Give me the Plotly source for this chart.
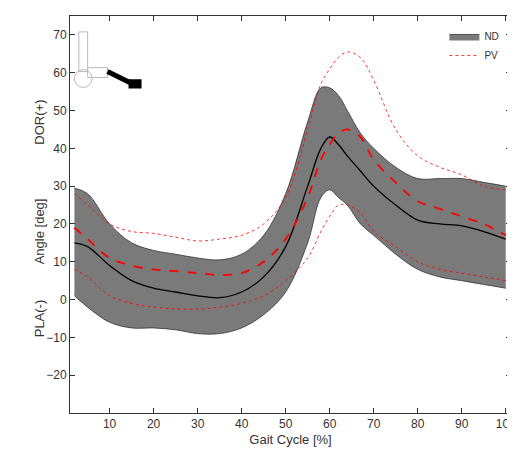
import plotly.graph_objects as go

gait = [2, 5, 10, 15, 20, 25, 30, 35, 40, 45, 50, 55, 58, 60, 62, 64, 67, 70, 75, 80, 85, 90, 95, 100]
nd_mean = [15, 14, 9, 5, 3, 2, 1, 0.5, 2, 6, 14, 30, 40, 43, 41, 38, 34, 30, 25, 21, 20, 19.5, 18, 16]
nd_upper = [29.5, 28, 20, 15, 13, 12, 11, 10.5, 12, 17, 28, 47, 56, 56, 54, 50, 44, 40, 35, 32, 32, 32, 31, 30]
nd_lower = [1, -2, -6, -7.5, -7.5, -8, -9, -9, -7.5, -4, 2, 15, 27, 29, 27, 25, 20, 17, 12, 8, 6, 5, 4, 3]
pv_mean = [19, 16, 11, 9, 8, 7.5, 7, 6.5, 7, 10, 16, 27, 37, 41, 44, 45, 43, 37, 31, 26, 24, 22, 20, 17]
pv_upper = [28, 25, 20, 18, 17.5, 16.5, 15.5, 16, 17, 20, 27, 45, 57, 61, 64, 65.5, 64, 58, 45, 38, 35, 33, 30, 29]
pv_lower = [8, 6, 1, -1, -2, -2.5, -2.5, -2, -1, 1, 5, 11, 18, 22, 25, 25, 23, 18, 14, 10, 8, 7, 6, 5]

fig = go.Figure()
fig.add_trace(go.Scatter(x=gait, y=nd_upper, mode='lines', line=dict(color='#333', width=0.8, shape='spline'),
                         showlegend=False, hoverinfo='skip'))
fig.add_trace(go.Scatter(x=gait, y=nd_lower, mode='lines', fill='tonexty', fillcolor='#7a7a7a',
                         line=dict(color='#333', width=0.8, shape='spline'), name='ND', legendrank=1))
fig.add_trace(go.Scatter(x=gait, y=nd_mean, mode='lines', line=dict(color='black', width=1.3, shape='spline'),
                         showlegend=False))
fig.add_trace(go.Scatter(x=gait, y=pv_upper, mode='lines', line=dict(color='red', width=0.8, dash='dot', shape='spline'),
                         name='PV', legendrank=2))
fig.add_trace(go.Scatter(x=gait, y=pv_lower, mode='lines', line=dict(color='red', width=0.8, dash='dot', shape='spline'),
                         showlegend=False))
fig.add_trace(go.Scatter(x=gait, y=pv_mean, mode='lines', line=dict(color='red', width=1.8, dash='dash', shape='spline'),
                         showlegend=False))

axis = dict(showline=True, mirror='ticks', linecolor='#333', ticks='inside', ticklen=5, tickcolor='#333',
            showgrid=False, zeroline=False, tickfont=dict(size=12, color='#333'))
fig.update_layout(
    width=515, height=460, paper_bgcolor='white', plot_bgcolor='white',
    margin=dict(l=62, r=12, t=8, b=55),
    font=dict(family='Liberation Sans, Arial', color='#333'),
    xaxis=dict(axis, range=[1, 101.2], tickvals=list(range(10, 101, 10)),
               title=dict(text='Gait Cycle [%]', font=dict(size=13), standoff=4)),
    yaxis=dict(axis, range=[-30, 75], tickvals=list(range(-20, 71, 10))),
    legend=dict(x=0.985, y=0.985, xanchor='right', yanchor='top', font=dict(size=10), bgcolor='rgba(0,0,0,0)',
                traceorder='normal'),
    showlegend=True,
)
for txt, yv in [('DOR(+)', 47), ('Angle [deg]', 18), ('PLA(-)', -5)]:
    fig.add_annotation(text=txt, x=-0.09, xref='paper', y=yv, yref='y', textangle=-90, showarrow=False,
                       font=dict(size=13, color='#333'))

# small leg icon
g = '#bbb'
fig.add_shape(type='rect', xref='paper', yref='paper', x0=0.02, x1=0.04, y0=0.86, y1=0.96, line=dict(color=g, width=1))
fig.add_shape(type='circle', xref='paper', yref='paper', x0=0.01, x1=0.05, y0=0.82, y1=0.865, line=dict(color=g, width=1))
fig.add_shape(type='rect', xref='paper', yref='paper', x0=0.04, x1=0.085, y0=0.845, y1=0.87, line=dict(color=g, width=1))
fig.add_shape(type='line', xref='paper', yref='paper', x0=0.085, x1=0.14, y0=0.86, y1=0.83, line=dict(color='black', width=5))
fig.add_shape(type='rect', xref='paper', yref='paper', x0=0.135, x1=0.16, y0=0.82, y1=0.838, fillcolor='black', line=dict(color='black'))

fig.write_html('out.html')
